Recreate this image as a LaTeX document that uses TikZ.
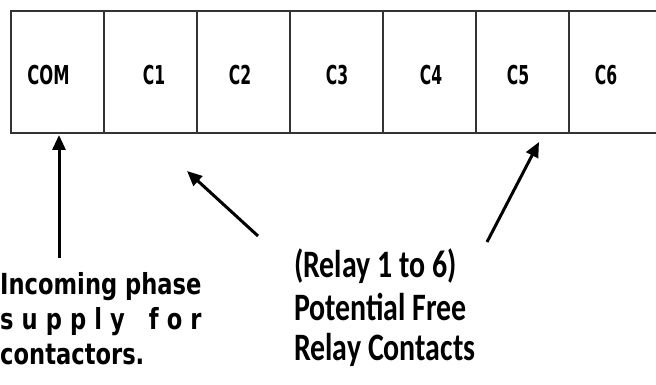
\documentclass[tikz,border=0pt]{standalone}
\usepackage{fontspec}
\usepackage{graphicx}
\setmainfont{DejaVu Sans}
\newfontfamily\calfont{Carlito}
\usetikzlibrary{arrows.meta}
\tikzset{
  cell/.style={draw=black!80, line width=2pt, minimum width=93pt, minimum height=122pt, inner sep=0pt, anchor=north west},
  celltext/.style={inner sep=0pt, font=\fontsize{26}{30}\selectfont\bfseries},
  lefttext/.style={inner sep=0pt, anchor=base west, font=\fontsize{29}{34}\selectfont\bfseries},
  righttext/.style={inner sep=0pt, anchor=base west, font=\calfont\fontsize{38.8}{42}\selectfont\bfseries},
  pointer/.style={line width=3pt, -{Triangle[length=15pt,width=13pt]}}
}
\newlength\firstlw
\begin{document}
\begin{tikzpicture}[x=1pt,y=-1pt]
\useasboundingbox (0,0) rectangle (656,385);
\fill[white] (0,0) rectangle (656,385);
% cells
\node[cell] (com) at (10,10) {};
\node[cell] (c1) at (103,10) {};
\node[cell] (c2) at (196,10) {};
\node[cell] (c3) at (289,10) {};
\node[cell] (c4) at (382,10) {};
\node[cell] (c5) at (475,10) {};
\node[cell] (c6) at (568,10) {};
% labels
\node[celltext] (tcom) at (48.5,75) {\scalebox{0.63}[1]{COM}};
\node[celltext] (tc1) at (154,75) {\scalebox{0.6}[1]{C1}};
\node[celltext] (tc2) at (240,75) {\scalebox{0.6}[1]{C2}};
\node[celltext] (tc3) at (337,75) {\scalebox{0.6}[1]{C3}};
\node[celltext] (tc4) at (431,75) {\scalebox{0.6}[1]{C4}};
\node[celltext] (tc5) at (518,75) {\scalebox{0.6}[1]{C5}};
\node[celltext] (tc6) at (606,75) {\scalebox{0.6}[1]{C6}};
% left text
\node[lefttext] (l1) at (0,294) {\scalebox{0.78}[1]{Incoming phase}};
\node[lefttext] (l2) at (0,329) {\scalebox{0.78}[1]{\settowidth{\firstlw}{Incoming phase}\makebox[\firstlw][s]{s\hfill u\hfill p\hfill p\hfill l\hfill y\hfill\hfill\hfill f\hfill o\hfill r}}};
\node[lefttext] (l3) at (0,364) {\scalebox{0.78}[1]{contactors.}};
% right text
\node[righttext] (r1) at (294,277) {\scalebox{0.77}[1]{(Relay 1 to 6)}};
\node[righttext] (r2) at (294,320) {\scalebox{0.77}[1]{Potential Free}};
\node[righttext] (r3) at (294,360) {\scalebox{0.77}[1]{Relay Contacts}};
% arrows
\coordinate (a1s) at (59,258);
\coordinate (a1e) at (59,135);
\coordinate (a2s) at (258,236);
\coordinate (a2e) at (187,171);
\coordinate (a3s) at (487,242);
\coordinate (a3e) at (539,142);
\draw[pointer] (a1s) -- (a1e);
\draw[pointer] (a2s) -- (a2e);
\draw[pointer] (a3s) -- (a3e);
\end{tikzpicture}
\end{document}
